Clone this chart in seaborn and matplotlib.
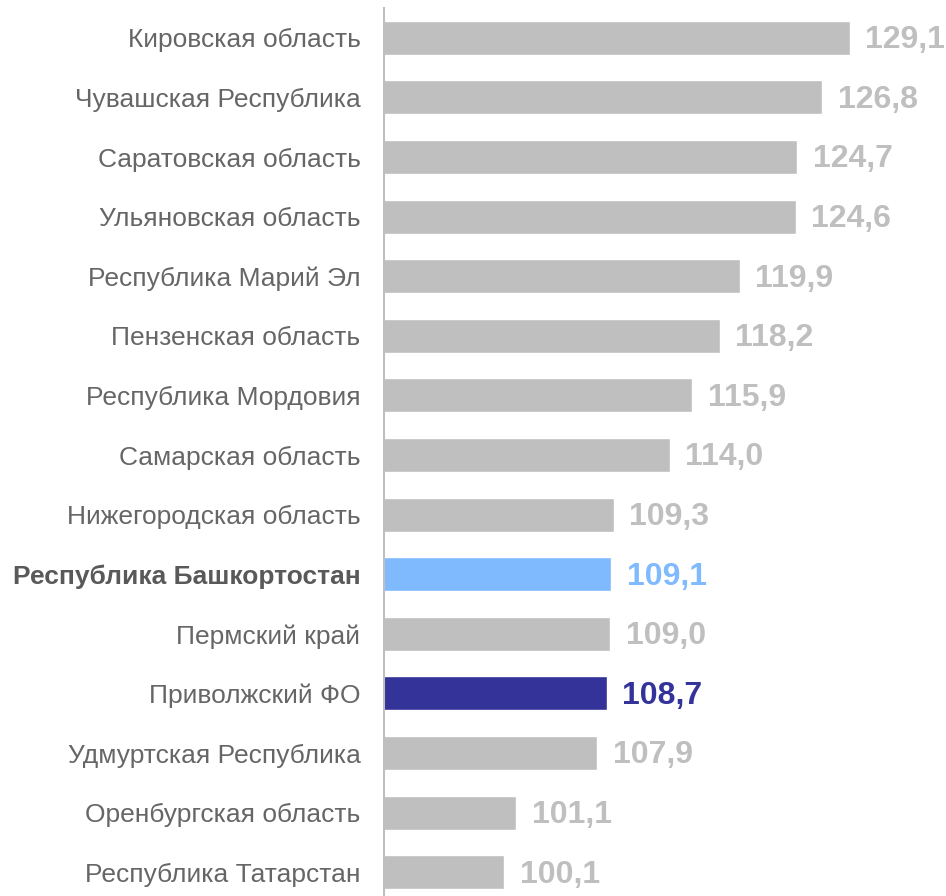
import matplotlib.pyplot as plt
import seaborn as sns
import pandas as pd

regions = [
    'Кировская область',
    'Чувашская Республика',
    'Саратовская область',
    'Ульяновская область',
    'Республика Марий Эл',
    'Пензенская область',
    'Республика Мордовия',
    'Самарская область',
    'Нижегородская область',
    'Республика Башкортостан',
    'Пермский край',
    'Приволжский ФО',
    'Удмуртская Республика',
    'Оренбургская область',
    'Республика Татарстан',
]
values = [129.1, 126.8, 124.7, 124.6, 119.9, 118.2, 115.9, 114.0,
          109.3, 109.1, 109.0, 108.7, 107.9, 101.1, 100.1]

GREY = '#bfbfbf'
HIGHLIGHT = {'Республика Башкортостан': '#7fbaff', 'Приволжский ФО': '#333399'}


def main():
    sns.set_style('white')
    plt.rcParams['font.family'] = ['Liberation Sans', 'DejaVu Sans']

    df = pd.DataFrame({'region': regions, 'value': values})
    palette = {r: HIGHLIGHT.get(r, GREY) for r in regions}

    fig = plt.figure(figsize=(9.46, 8.96), dpi=100)
    ax = fig.add_axes([384 / 946, -6 / 896, 562 / 946, 894 / 896])

    sns.barplot(data=df, y='region', x='value', hue='region', palette=palette,
                legend=False, width=0.57, saturation=1, ax=ax)

    ax.set_xlim(90, 137.2)
    ax.set_ylim(len(regions) - 0.5, -0.5)
    ax.set_xlabel('')
    ax.set_ylabel('')
    ax.set_xticks([])
    ax.tick_params(axis='y', length=0, pad=17)

    for lab in ax.get_yticklabels():
        lab.set_fontsize(19)
        if lab.get_text() == 'Республика Башкортостан':
            lab.set_fontweight('bold')
            lab.set_color('#595959')
        else:
            lab.set_color('#666666')

    for i, (r, v) in enumerate(zip(regions, values)):
        ax.text(v + 1.3, i + 0.04, f'{v:.1f}'.replace('.', ','), va='center', ha='left',
                fontsize=23, fontweight='bold', color=HIGHLIGHT.get(r, GREY))

    for s in ['top', 'right', 'bottom']:
        ax.spines[s].set_visible(False)
    ax.spines['left'].set_color(GREY)
    ax.spines['left'].set_linewidth(1.5)

    fig.savefig('out.png', dpi=100)


if __name__ == '__main__':
    main()
